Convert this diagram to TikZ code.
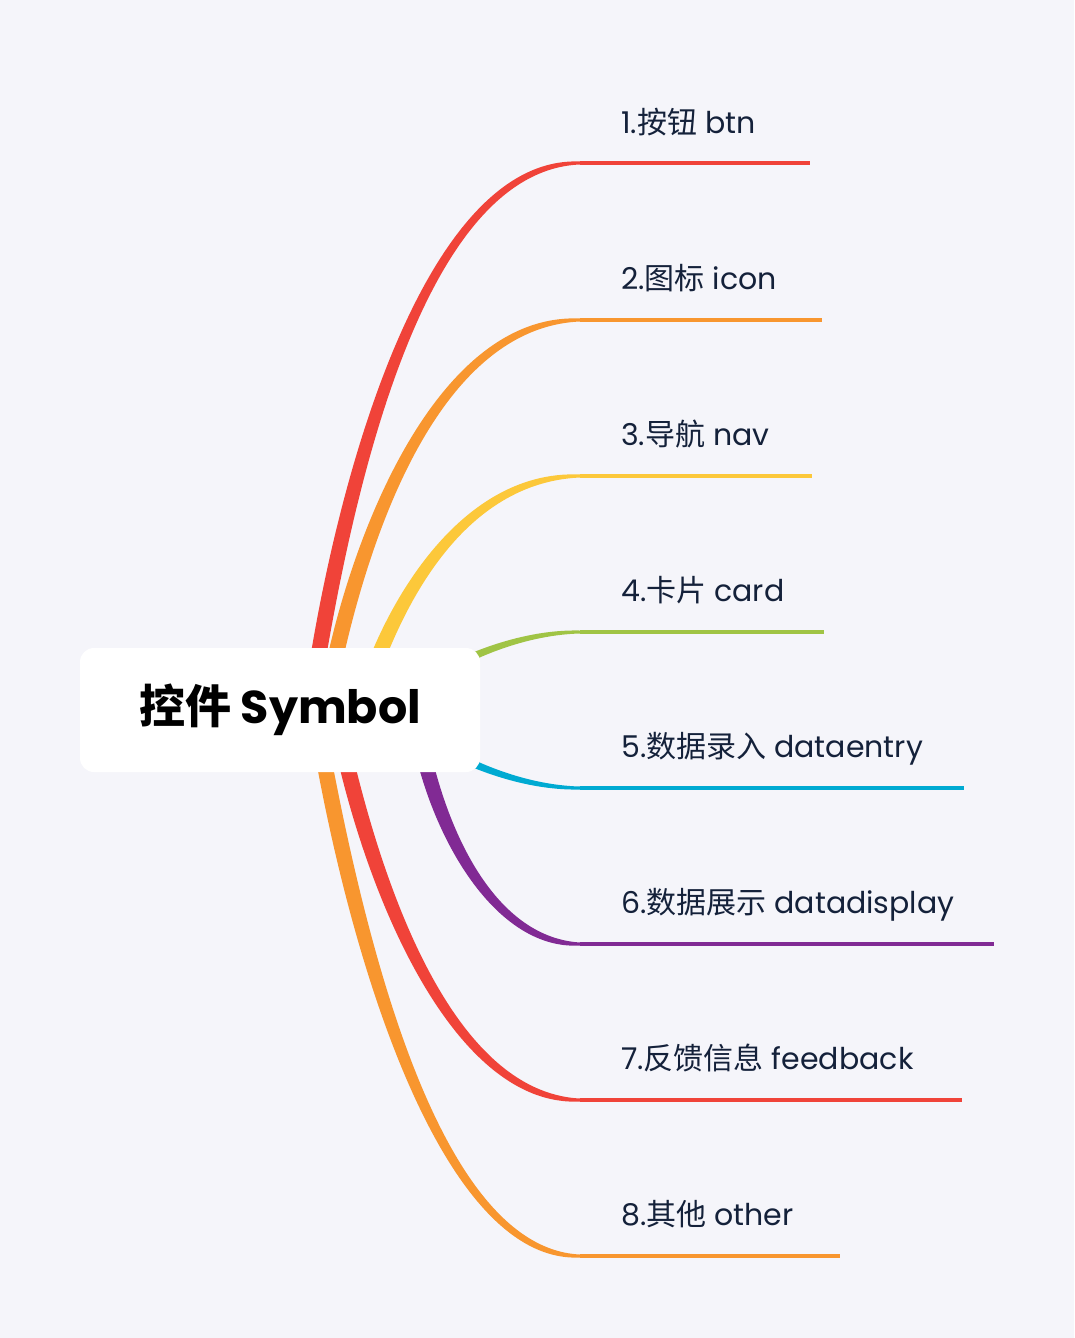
\documentclass[tikz,border=0pt]{standalone}
\usepackage{fontspec}
\setmainfont{Poppins}
\newfontfamily\cjk{Noto Sans CJK SC}
\usetikzlibrary{calc}
\definecolor{bg}{HTML}{F5F5FA}
\definecolor{txt}{HTML}{14213A}
\definecolor{cred}{HTML}{F04339}
\definecolor{corange}{HTML}{F8962F}
\definecolor{cyellow}{HTML}{FCC83A}
\definecolor{cgreen}{HTML}{A0C445}
\definecolor{ccyan}{HTML}{00AAD2}
\definecolor{cpurple}{HTML}{812A94}
% tapered branch: colour, P0, P1, P2, P3, half widths at P0, P1, P2
\newcommand\mmbranch[8]{%
  \fill[#1] ($(#2)!#6!90:(#3)$) .. controls ($(#3)!#7!-90:(#2)$) and ($(#4)+(0,-#8)$) .. ($(#5)+(0,-1.5)$)
    -- ($(#5)+(0,1.5)$) .. controls ($(#4)+(0,#8)$) and ($(#3)!#7!90:(#2)$) .. ($(#2)!#6!-90:(#3)$) -- cycle;}
\tikzset{
  rootbox/.style={rectangle, rounded corners=14pt, fill=white, minimum width=400pt, minimum height=124pt,
    inner sep=0pt, font=\fontsize{46}{54}\selectfont\bfseries, text=black},
  lbl/.style={anchor=base west, inner sep=0pt, font=\fontsize{30}{36}\selectfont, text=txt},
  topline/.style={line width=3.5pt}
}
\begin{document}
\begin{tikzpicture}[x=1pt,y=-1pt]
\fill[bg] (0,0) rectangle (1074,1338);
\useasboundingbox (0,0) rectangle (1074,1338);

% control points of the branches
\coordinate (a0) at (310,710); \coordinate (a1) at (340,500); \coordinate (a2) at (420,163); \coordinate (s1) at (580,163); \coordinate (e1) at (810,163);
\coordinate (b0) at (325,710); \coordinate (b1) at (350,560); \coordinate (b2) at (430,320); \coordinate (s2) at (580,320); \coordinate (e2) at (822,320);
\coordinate (c0) at (360,710); \coordinate (c1) at (385,620); \coordinate (c2) at (455,476); \coordinate (s3) at (580,476); \coordinate (e3) at (812,476);
\coordinate (d0) at (400,700); \coordinate (d1) at (450,660); \coordinate (d2) at (520,632); \coordinate (s4) at (580,632); \coordinate (e4) at (824,632);
\coordinate (f0) at (400,720); \coordinate (f1) at (450,760); \coordinate (f2) at (520,788); \coordinate (s5) at (580,788); \coordinate (e5) at (964,788);
\coordinate (g0) at (415,710); \coordinate (g1) at (430,820); \coordinate (g2) at (490,944); \coordinate (s6) at (580,944); \coordinate (e6) at (994,944);
\coordinate (h0) at (335,710); \coordinate (h1) at (368,880); \coordinate (h2) at (450,1100); \coordinate (s7) at (580,1100); \coordinate (e7) at (962,1100);
\coordinate (k0) at (315,710); \coordinate (k1) at (355,950); \coordinate (k2) at (440,1256); \coordinate (s8) at (580,1256); \coordinate (e8) at (840,1256);

\mmbranch{cred}{a0}{a1}{a2}{s1}{7.5pt}{9.5pt}{8}
\mmbranch{corange}{b0}{b1}{b2}{s2}{7.5pt}{9.5pt}{8}
\mmbranch{cyellow}{c0}{c1}{c2}{s3}{7.5pt}{9pt}{7}
\mmbranch{cgreen}{d0}{d1}{d2}{s4}{5pt}{4.5pt}{3}
\mmbranch{ccyan}{f0}{f1}{f2}{s5}{5pt}{4.5pt}{3}
\mmbranch{cpurple}{g0}{g1}{g2}{s6}{7.5pt}{9pt}{7}
\mmbranch{cred}{h0}{h1}{h2}{s7}{7.5pt}{9.5pt}{8}
\mmbranch{corange}{k0}{k1}{k2}{s8}{7.5pt}{9.5pt}{8}

\draw[topline, cred] (s1) -- (e1);
\draw[topline, corange] (s2) -- (e2);
\draw[topline, cyellow] (s3) -- (e3);
\draw[topline, cgreen] (s4) -- (e4);
\draw[topline, ccyan] (s5) -- (e5);
\draw[topline, cpurple] (s6) -- (e6);
\draw[topline, cred] (s7) -- (e7);
\draw[topline, corange] (s8) -- (e8);

\node[rootbox] (root) at (280,710) {{\cjk\bfseries 控件} Symbol};

\node[lbl] (l1) at (621,133) {1.{\cjk 按钮} btn};
\node[lbl] (l2) at (621,289) {2.{\cjk 图标} icon};
\node[lbl] (l3) at (621,445) {3.{\cjk 导航} nav};
\node[lbl] (l4) at (621,601) {4.{\cjk 卡片} card};
\node[lbl] (l5) at (621,757) {5.{\cjk 数据录入} dataentry};
\node[lbl] (l6) at (621,913) {6.{\cjk 数据展示} datadisplay};
\node[lbl] (l7) at (621,1069) {7.{\cjk 反馈信息} feedback};
\node[lbl] (l8) at (621,1225) {8.{\cjk 其他} other};
\end{tikzpicture}
\end{document}
